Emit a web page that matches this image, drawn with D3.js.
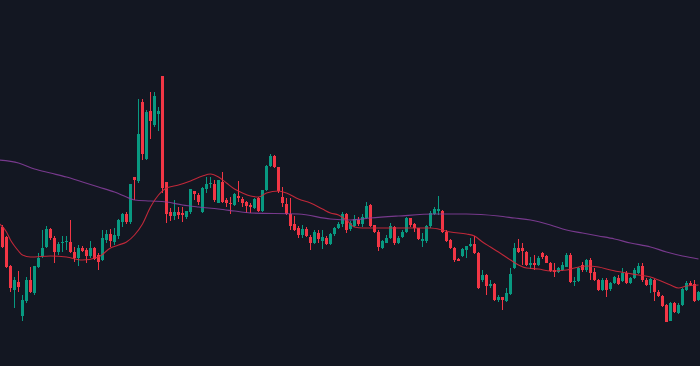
<!DOCTYPE html>
<html>
<head>
<meta charset="utf-8">
<script src="https://cdn.jsdelivr.net/npm/d3@7"></script>
<style>
  html, body { margin: 0; padding: 0; background: #131722; overflow: hidden; }
</style>
</head>
<body>
<div id="chart"></div>
<script>
const width = 700, height = 366;

// candle OHLC, one entry per bar, bar index starts at -1 (half off the left edge)
const open = [1.64,1.73,1.63,1.34,1.10,1.18,0.84,0.99,1.20,1.07,1.33,1.44,1.53,1.71,1.62,1.48,1.57,1.58,1.58,1.48,1.42,1.52,1.50,1.44,1.52,1.45,
  1.40,1.60,1.66,1.58,1.64,1.78,1.86,1.78,2.23,2.19,2.98,2.41,2.89,2.75,2.86,3.24,2.18,1.88,1.84,1.88,1.87,1.83,1.88,2.09,2.05,
  1.88,2.11,2.16,2.16,1.97,2.18,2.00,1.97,1.95,2.04,2.01,1.98,1.95,1.92,2.02,1.89,2.10,2.34,2.44,2.33,2.03,1.96,1.86,1.76,1.72,
  1.65,1.71,1.63,1.57,1.67,1.59,1.62,1.56,1.66,1.72,1.76,1.86,1.71,1.74,1.80,1.76,1.82,1.95,1.75,1.68,1.52,1.57,1.62,1.73,1.57,
  1.63,1.68,1.82,1.76,1.72,1.59,1.59,1.74,1.86,1.89,1.89,1.68,1.60,1.52,1.41,1.44,1.50,1.54,1.56,1.47,1.20,1.25,1.14,1.16,1.00,
  1.03,0.99,1.06,1.32,1.52,1.52,1.48,1.35,1.37,1.35,1.47,1.44,1.37,1.30,1.28,1.30,1.33,1.45,1.18,1.19,1.35,1.30,1.40,1.28,1.20,
  1.10,1.20,1.11,1.17,1.22,1.19,1.27,1.17,1.22,1.27,1.34,1.20,1.15,1.20,1.08,1.04,0.95,0.79,0.97,0.87,0.95,1.10,1.17,1.16,1.00];
const high = [1.70,1.75,1.64,1.35,1.23,1.29,1.05,1.23,1.33,1.34,1.47,1.70,1.74,1.72,1.64,1.58,1.64,1.64,1.80,1.53,1.55,1.54,1.52,1.59,1.53,1.47,
  1.70,1.70,1.71,1.72,1.81,1.87,1.88,2.16,2.23,3.01,3.01,2.90,3.08,3.08,2.93,3.24,2.18,1.92,2.00,1.93,1.93,1.89,2.11,2.09,2.07,
  2.13,2.23,2.23,2.20,2.20,2.28,2.02,2.03,2.07,2.19,2.03,1.99,1.97,2.02,2.03,2.10,2.35,2.46,2.45,2.33,2.13,2.02,2.02,1.84,1.74,
  1.75,1.73,1.65,1.70,1.70,1.70,1.64,1.67,1.73,1.78,1.88,1.87,1.79,1.85,1.83,1.86,1.98,1.96,1.75,1.70,1.60,1.65,1.77,1.74,1.64,
  1.70,1.83,1.82,1.77,1.72,1.67,1.75,1.89,1.93,2.04,1.90,1.70,1.61,1.53,1.42,1.52,1.54,1.62,1.64,1.48,1.30,1.26,1.20,1.17,1.05,
  1.03,1.12,1.32,1.57,1.61,1.57,1.49,1.43,1.45,1.44,1.48,1.45,1.38,1.37,1.33,1.38,1.47,1.47,1.23,1.33,1.38,1.41,1.42,1.32,1.21,
  1.22,1.22,1.18,1.24,1.25,1.32,1.29,1.23,1.32,1.37,1.37,1.22,1.22,1.21,1.10,1.05,0.96,0.98,0.98,0.97,1.12,1.19,1.19,1.20,1.09];
const low = [1.62,1.52,1.32,1.08,0.92,1.08,0.79,0.97,1.07,1.05,1.32,1.42,1.52,1.60,1.37,1.45,1.48,1.50,1.47,1.38,1.34,1.48,1.37,1.42,1.40,1.30,
  1.39,1.57,1.53,1.55,1.61,1.73,1.76,1.76,2.00,2.17,2.40,2.40,2.61,2.73,2.69,2.07,1.77,1.79,1.80,1.81,1.78,1.81,1.86,2.00,1.95,
  1.87,2.07,2.12,1.98,1.97,1.97,1.93,1.86,1.94,1.98,1.93,1.87,1.87,1.91,1.88,1.88,2.09,2.33,2.32,2.07,1.93,1.85,1.70,1.69,1.62,
  1.62,1.63,1.50,1.56,1.57,1.51,1.55,1.55,1.64,1.71,1.73,1.67,1.69,1.73,1.74,1.73,1.81,1.73,1.67,1.49,1.51,1.57,1.61,1.55,1.56,
  1.62,1.67,1.73,1.68,1.60,1.53,1.57,1.72,1.85,1.85,1.67,1.58,1.51,1.38,1.39,1.43,1.42,1.53,1.46,1.11,1.18,1.05,1.12,0.99,0.98,
  0.90,0.98,1.05,1.31,1.47,1.35,1.34,1.31,1.30,1.34,1.41,1.37,1.28,1.23,1.27,1.29,1.33,1.17,1.14,1.18,1.28,1.28,1.20,1.19,1.09,
  1.09,1.03,1.09,1.16,1.15,1.18,1.16,1.16,1.21,1.26,1.18,1.14,1.07,0.99,1.03,0.93,0.78,0.79,0.87,0.86,0.94,1.09,1.14,0.98,0.99];
const close = [1.68,1.53,1.33,1.12,1.20,1.13,1.00,1.20,1.08,1.34,1.42,1.52,1.71,1.62,1.48,1.56,1.58,1.59,1.48,1.42,1.52,1.49,1.44,1.52,1.41,1.38,
  1.62,1.66,1.59,1.65,1.80,1.86,1.78,2.16,2.20,2.66,2.46,2.88,2.79,3.04,2.89,2.12,1.86,1.84,1.88,1.85,1.85,1.89,2.11,2.06,1.98,
  2.12,2.16,2.17,2.00,2.20,1.98,1.97,1.96,2.06,2.02,1.97,1.94,1.93,2.01,1.89,2.10,2.34,2.44,2.33,2.09,1.97,1.86,1.74,1.70,1.65,
  1.71,1.64,1.57,1.68,1.61,1.63,1.56,1.66,1.72,1.76,1.86,1.70,1.77,1.81,1.76,1.83,1.94,1.74,1.68,1.53,1.59,1.62,1.74,1.57,1.62,
  1.68,1.82,1.75,1.72,1.61,1.61,1.74,1.87,1.91,1.91,1.68,1.59,1.52,1.40,1.39,1.51,1.54,1.56,1.47,1.12,1.25,1.14,1.16,1.00,1.03,
  1.00,1.07,1.26,1.52,1.48,1.49,1.35,1.37,1.35,1.42,1.43,1.37,1.29,1.28,1.32,1.35,1.45,1.18,1.19,1.32,1.30,1.40,1.27,1.20,1.10,
  1.20,1.10,1.17,1.23,1.16,1.27,1.17,1.22,1.30,1.34,1.20,1.15,1.21,1.08,1.04,0.94,0.78,0.97,0.88,0.95,1.11,1.17,1.15,0.99,1.08];

// moving averages, sampled at bar indices
const maFastIdx = [-1,1,2,3,4,5,7,12,16,20,24,27,29,31,33,35,37,39,41,44,47,50,52,54,56,58,60,62,64,66,69,71,74,77,80,82,84,86,88,90,95,100,107,
  110,112,116,118,120,122,124,127,129,131,134,137,141,143,146,149,152,156,159,162,164,167,169,171,174];
const maFast = [1.77,1.68,1.60,1.54,1.49,1.45,1.43,1.44,1.43,1.40,1.43,1.52,1.55,1.58,1.65,1.76,1.93,2.05,2.12,2.15,2.19,2.24,2.26,2.23,2.17,2.11,
  2.07,2.04,2.03,2.07,2.09,2.07,2.01,1.97,1.91,1.87,1.85,1.80,1.73,1.72,1.72,1.72,1.72,1.70,1.68,1.66,1.64,1.58,1.53,1.48,1.40,1.35,1.32,1.31,
  1.29,1.30,1.32,1.34,1.33,1.30,1.27,1.25,1.23,1.20,1.15,1.12,1.14,1.15];
const maSlowIdx = [-1,4,8,12,16,20,24,28,31,33,37,41,45,49,54,58,62,74,82,87,92,99,108,116,124,128,132,137,141,145,149,153,157,162,166,170,174];
const maSlow = [2.40,2.37,2.31,2.27,2.23,2.18,2.13,2.08,2.03,2.00,1.99,1.98,1.95,1.93,1.91,1.89,1.87,1.86,1.81,1.80,1.82,1.84,1.86,1.86,1.84,
  1.82,1.80,1.75,1.70,1.67,1.64,1.61,1.57,1.53,1.48,1.44,1.41];

const bars = open.map((o, i) => ({ i: i - 1, o, h: high[i], l: low[i], c: close[i] }));

const x = d3.scaleLinear().domain([-1, 174]).range([-1.5, 698.5]);
const y = d3.scaleLinear().domain([0.34, 4.0]).range([height, 0]);

const upColor = "#089981", downColor = "#f23645";

const svg = d3.select("#chart")
    .append("svg")
    .attr("width", width)
    .attr("height", height)
    .style("display", "block");

svg.append("rect")
    .attr("width", width)
    .attr("height", height)
    .attr("fill", "#131722");

const candle = svg.append("g")
    .attr("shape-rendering", "crispEdges")
    .selectAll("g")
    .data(bars)
    .join("g")
    .attr("fill", d => d.c >= d.o ? upColor : downColor);

candle.append("rect")
    .attr("x", d => x(d.i) - 0.5)
    .attr("width", 1)
    .attr("y", d => y(d.h))
    .attr("height", d => Math.max(1, y(d.l) - y(d.h)));

candle.append("rect")
    .attr("x", d => x(d.i) - 1.5)
    .attr("width", 3)
    .attr("y", d => y(Math.max(d.o, d.c)))
    .attr("height", d => Math.max(1, Math.abs(y(d.o) - y(d.c))));

const line = d3.line()
    .x(d => x(d[0]))
    .y(d => y(d[1]))
    .curve(d3.curveMonotoneX);

svg.append("path")
    .datum(d3.zip(maSlowIdx, maSlow))
    .attr("fill", "none")
    .attr("stroke", "#8a3fa0")
    .attr("stroke-opacity", 0.85)
    .attr("stroke-width", 1.2)
    .attr("d", line);

svg.append("path")
    .datum(d3.zip(maFastIdx, maFast))
    .attr("fill", "none")
    .attr("stroke", "#d32a3c")
    .attr("stroke-opacity", 0.9)
    .attr("stroke-width", 1.1)
    .attr("d", line);
</script>
</body>
</html>
